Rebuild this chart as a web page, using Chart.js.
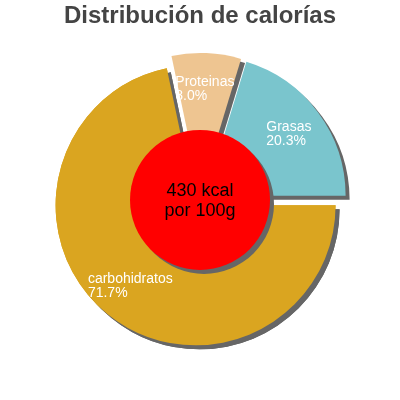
<!DOCTYPE html>
<html>
<head>
<meta charset="utf-8">
<script src="https://cdn.jsdelivr.net/npm/chart.js@4/dist/chart.umd.min.js"></script>
<style>
  html, body { margin: 0; padding: 0; background: #fff; }
  #wrap { width: 400px; height: 400px; }
</style>
</head>
<body>
<div id="wrap"><canvas id="calChart" width="400" height="400"></canvas></div>
<script>
// data
var labels = ["carbohidratos", "Proteinas", "Grasas"];
var percents = [71.7, 8.0, 20.3];
var colors = ["#DAA520", "#EEC591", "#7AC5CD"];
var centerLines = ["430 kcal", "por 100g"];

var FONT = "'Liberation Sans', Arial, sans-serif";
var EXPLODE = 7; // px every slice is pulled out

// chart.js "offset" also grows the radius of big slices, so move the slices ourselves
var baseArcDraw = Chart.ArcElement.prototype.draw;
Chart.ArcElement.prototype.draw = function(ctx) {
    var mid = (this.startAngle + this.endAngle) / 2;
    ctx.save();
    ctx.translate(Math.cos(mid) * EXPLODE, Math.sin(mid) * EXPLODE);
    baseArcDraw.call(this, ctx);
    ctx.restore();
};

function setShadow(ctx) {
    ctx.shadowColor = '#666666';
    ctx.shadowOffsetX = 4;
    ctx.shadowOffsetY = 4;
    ctx.shadowBlur = 0;
}

// shadow behind every slice
var shadowPlugin = {
    id: 'shadow',
    beforeDatasetsDraw: function(chart) {
        chart.ctx.save();
        setShadow(chart.ctx);
    },
    afterDatasetsDraw: function(chart) {
        chart.ctx.restore();
    }
};

function drawLabel(ctx, arc, i, cx, cy) {
    var mid = (arc.startAngle + arc.endAngle) / 2;
    var lr = arc.outerRadius * 0.79;
    var lx = cx + Math.cos(mid) * lr;
    var ly = cy + Math.sin(mid) * lr;
    var l1 = labels[i];
    var l2 = percents[i].toFixed(1) + '%';
    ctx.save();
    ctx.fillStyle = '#fff';
    ctx.font = '14px ' + FONT;
    ctx.textBaseline = 'middle';
    ctx.textAlign = 'left';
    var w = Math.max(ctx.measureText(l1).width, ctx.measureText(l2).width);
    ctx.fillText(l1, lx - w / 2, ly - 7);
    ctx.fillText(l2, lx - w / 2, ly + 7);
    ctx.restore();
}

// labels, big slice on top again, red disc with kcal text
var centerPlugin = {
    id: 'centerDisc',
    afterDatasetsDraw: function(chart) {
        var ctx = chart.ctx;
        var meta = chart.getDatasetMeta(0);
        var arcs = meta.data;
        var cx = arcs[0].x, cy = arcs[0].y;
        var r = arcs[0].outerRadius * 0.5;

        // small slices' labels first, then the first slice (and its shadow) over them
        for (var i = arcs.length - 1; i > 0; i--) {
            drawLabel(ctx, arcs[i], i, cx, cy);
        }
        ctx.save();
        setShadow(ctx);
        arcs[0].draw(ctx);
        ctx.restore();
        drawLabel(ctx, arcs[0], 0, cx, cy);

        ctx.save();
        setShadow(ctx);
        ctx.beginPath();
        ctx.arc(cx, cy, r, 0, Math.PI * 2);
        ctx.fillStyle = '#FF0000';
        ctx.fill();
        ctx.restore();

        ctx.save();
        ctx.fillStyle = '#000';
        ctx.font = '18px ' + FONT;
        ctx.textAlign = 'center';
        ctx.textBaseline = 'middle';
        ctx.fillText(centerLines[0], cx, cy - 9);
        ctx.fillText(centerLines[1], cx, cy + 11);
        ctx.restore();
    }
};

var calContext = document.getElementById('calChart').getContext('2d');
var calChart = new Chart(calContext, {
    type: 'pie',
    data: {
        labels: labels,
        datasets: [{
            data: percents,
            backgroundColor: colors,
            borderWidth: 0,
            radius: 140
        }]
    },
    options: {
        responsive: false,
        animation: false,
        rotation: 90,
        layout: { padding: { left: 0, bottom: 37 } },
        plugins: {
            legend: { display: false },
            tooltip: { enabled: false },
            title: {
                display: true,
                text: 'Distribución de calorías',
                color: '#444444',
                font: { family: FONT, size: 24, weight: 'bold' },
                padding: { top: 2, bottom: 6 }
            }
        }
    },
    plugins: [shadowPlugin, centerPlugin]
});
</script>
</body>
</html>
